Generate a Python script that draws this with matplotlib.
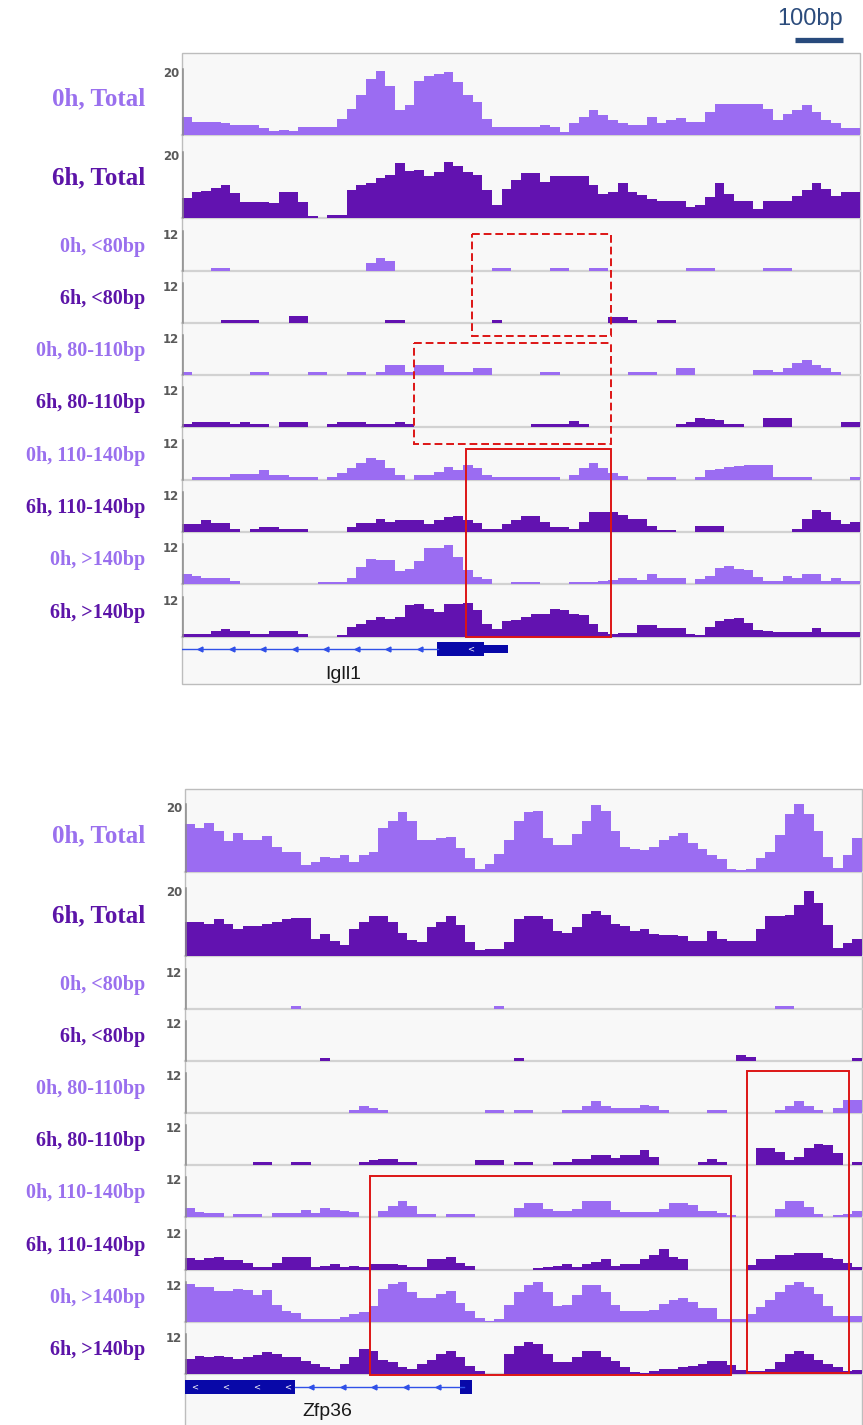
import numpy as np
import matplotlib
matplotlib.use('Agg')
import matplotlib.pyplot as plt
from matplotlib.patches import Rectangle

W, H = 863, 1425
LIGHT = '#9b6cf2'
DARK = '#6212b0'
LABEL_LIGHT = '#9a70ee'
LABEL_DARK = '#5c14a8'
RED = '#dd1515'
GENE = '#0808a8'
GENE_LINE = '#3050e8'

track_names = ['0h, Total', '6h, Total', '0h, <80bp', '6h, <80bp', '0h, 80-110bp',
               '6h, 80-110bp', '0h, 110-140bp', '6h, 110-140bp', '0h, >140bp', '6h, >140bp']
span_bp = 1400
edges = np.arange(71) * 20  # 70 bins of 20 bp

# ---- Igll1 locus: coverage per 20bp bin ----
igll1_0h_total = [5.5, 4, 4, 4, 3.5, 3, 3, 3, 2, 1.2, 1.5, 1.2, 2.5, 2.5, 2.5, 2.5, 5, 8, 12, 17,
                  19.5, 15, 7.5, 9, 16.5, 18, 18.5, 19, 16, 12, 10, 5, 2.5, 2.5, 2.5, 2.5, 2.5, 3, 2.5, 0.8,
                  3.5, 5.5, 7.5, 6, 4.5, 3.5, 3, 3, 5.5, 3.5, 4.5, 5.3, 4, 4, 7, 9.5, 9.5, 9.5, 9.5, 9.5,
                  8, 4.5, 6.5, 7.5, 9, 7, 4.5, 3.5, 2, 2]
igll1_6h_total = [6, 7.9, 8.2, 9, 10, 7.5, 5, 4.7, 4.7, 4.5, 7.9, 7.9, 5, 0.5, 0, 1, 1, 8.5, 10, 10.5,
                  12, 13, 16.8, 14.2, 14.5, 12.6, 14, 17, 15.8, 14, 13, 8.4, 4, 8.9, 11.6, 13.7, 13.7, 11, 12.6, 12.6,
                  12.6, 12.6, 10, 7.4, 8, 10.5, 7.9, 7, 5.8, 5.3, 5.3, 5.3, 3.2, 4, 6.3, 10.5, 7.4, 5.3, 5.3, 2.6,
                  5.3, 5.3, 5.3, 6.8, 8.5, 10.5, 8.9, 6.8, 7.9, 7.9]
igll1_0h_lt80 = [0, 0, 0, 1, 1, 0, 0, 0, 0, 0, 0, 0, 0, 0, 0, 0, 0, 0, 0, 2.5,
                 4, 3, 0, 0, 0, 0, 0, 0, 0, 0, 0, 0, 1, 1, 0, 0, 0, 0, 1, 1,
                 0, 0, 1, 1, 0, 0, 0, 0, 0, 0, 0, 0, 1, 1, 1, 0, 0, 0, 0, 0,
                 1, 1, 1, 0, 0, 0, 0, 0, 0, 0]
igll1_6h_lt80 = [0, 0, 0, 0, 1, 1, 1, 1, 0, 0, 0, 2, 2, 0, 0, 0, 0, 0, 0, 0,
                 0, 1, 1, 0, 0, 0, 0, 0, 0, 0, 0, 0, 1, 0, 0, 0, 0, 0, 0, 0,
                 0, 0, 0, 0, 1.8, 1.8, 1, 0, 0, 1, 1, 0, 0, 0, 0, 0, 0, 0, 0, 0,
                 0, 0, 0, 0, 0, 0, 0, 0, 0, 0]
igll1_0h_80_110 = [1, 0, 0, 0, 0, 0, 0, 1, 1, 0, 0, 0, 0, 1, 1, 0, 0, 1, 1, 0,
                   1, 3, 3, 1, 3, 3, 3, 1, 1, 1, 2, 2, 0, 0, 0, 0, 0, 1, 1, 0,
                   0, 0, 0, 0, 0, 0, 1, 1, 1, 0, 0, 2, 2, 0, 0, 0, 0, 0, 0, 1.5,
                   1.5, 1, 2, 3.5, 4.5, 3, 2, 1, 0, 0]
igll1_6h_80_110 = [1, 1.5, 1.5, 1.5, 1.5, 1, 1.5, 1, 1, 0, 1.5, 1.5, 1.5, 0, 0, 1, 1.5, 1.5, 1.5, 1,
                   1, 1, 1.5, 1, 0, 0, 0, 0, 0, 0, 0, 0, 0, 0, 0, 0, 1, 1, 1, 1,
                   1.7, 1, 0, 0, 0, 0, 0, 0, 0, 0, 0, 1, 1.5, 2.8, 2.5, 2, 1, 1, 0, 0,
                   2.8, 2.8, 2.8, 0, 0, 0, 0, 0, 1.5, 1.5]
igll1_0h_110_140 = [0, 1, 1, 1, 1, 1.8, 1.8, 1.8, 3, 1.5, 1.5, 1, 1, 1, 0, 1, 2, 3.5, 5, 6.5,
                    6, 3.5, 1.5, 0, 1.5, 1.5, 2.5, 4, 3, 4.5, 3.5, 1.5, 1, 1, 1, 1, 1, 1, 1, 0,
                    1.5, 3.5, 5, 3.5, 2, 1.3, 0, 0, 1, 1, 1, 0, 0, 1, 3, 3.3, 3.8, 4.2, 4.6, 4.6,
                    4.6, 1, 1, 1, 1, 0, 0, 0, 0, 1]
igll1_6h_110_140 = [2.5, 2.5, 3.5, 2.7, 2.7, 1, 0, 0.8, 1.5, 1.5, 1, 0.8, 0.8, 0, 0, 0, 0, 1.5, 2.7, 2.7,
                    4, 3, 3.7, 3.7, 3.7, 2.5, 3.5, 4.5, 4.7, 3.5, 2.7, 1, 0.8, 2.5, 3.5, 4.7, 4.7, 3, 1.5, 1.5,
                    1, 3, 6, 6, 6, 5, 4, 3.8, 1.7, 0.5, 0.5, 0, 0, 1.7, 1.7, 1.7, 0, 0, 0, 0,
                    0, 0, 0, 1, 4, 6.7, 6, 3.5, 2.5, 3]
igll1_0h_gt140 = [3, 2.5, 1.7, 1.7, 1.7, 1, 0, 0, 0, 0, 0, 0, 0, 0, 0.7, 0.7, 0.7, 1.7, 5, 7.5,
                  7.2, 7.2, 4, 4.5, 7, 10.7, 10.7, 11.7, 8, 4.2, 2.2, 1.5, 0, 0, 0.7, 0.7, 0.7, 0, 0, 0,
                  0.7, 0.7, 0.7, 0.8, 1.2, 1.8, 1.8, 1.2, 3.1, 1.8, 1.8, 1.8, 0, 1.5, 2.5, 4.8, 5.3, 4.5, 4.3, 2,
                  0.8, 0.8, 2.5, 1.8, 3.1, 3.1, 1, 1.8, 0.8, 0.8]
igll1_6h_gt140 = [0.8, 0.8, 0.8, 1.7, 2.5, 1.7, 1.7, 1, 1, 1.7, 1.7, 1.7, 1, 0, 0, 0, 0.5, 3, 4, 5,
                  6, 5.5, 6, 9.5, 9.8, 8.5, 7.5, 10, 10, 10.2, 8, 4, 2.5, 4.8, 5.2, 6, 7, 7, 8.5, 8,
                  7, 6.5, 4, 1.5, 1, 1.3, 1.3, 3.6, 3.6, 2.8, 2.8, 2.8, 0.8, 0.5, 3, 4.8, 5.5, 5.8, 4.3, 2,
                  1.8, 1.6, 1.6, 1.6, 1.6, 2.6, 1.6, 1.6, 1.6, 1.6]

# ---- Zfp36 locus ----
zfp36_0h_total = [14, 13, 14.5, 12, 9, 11.5, 9.3, 9.3, 10.5, 7.5, 6, 5.9, 2.2, 3, 4.4, 4, 4.9, 2.9, 4.9, 6,
                  13, 15, 17.6, 15, 9.3, 9.3, 10, 10.4, 7, 4, 0.8, 2.4, 5.4, 9.3, 15, 17.6, 18, 10, 8, 8,
                  11.2, 15, 19.8, 18, 12.2, 7.3, 6.8, 6.5, 7.5, 9.3, 10.5, 11.4, 8.5, 6.8, 5, 3.9, 1, 0.7, 1, 4,
                  6, 11, 17, 20.5, 17, 12.2, 4.4, 1.3, 5, 10]
zfp36_6h_total = [9.9, 9.9, 9.5, 10.9, 9.5, 7.9, 8.9, 8.9, 9.5, 9.9, 10.9, 11.1, 11.1, 5, 6.6, 4.5, 3.3, 8, 10, 11.9,
                  11.9, 10, 6.8, 4.8, 4, 8.5, 10, 11.9, 9, 4, 1.7, 2.2, 2.2, 4, 10.9, 11.9, 11.9, 11, 7.3, 6.8,
                  8.5, 12.5, 13.2, 12, 9.5, 8.9, 7.5, 8, 6.5, 6.3, 6.3, 5.8, 4.3, 4.3, 7.3, 5, 4.3, 4.3, 4.3, 8,
                  11.9, 11.9, 12, 15, 19, 15.5, 9, 2.5, 3.8, 5]
zfp36_0h_lt80 = [0, 0, 0, 0, 0, 0, 0, 0, 0, 0, 0, 1, 0, 0, 0, 0, 0, 0, 0, 0,
                 0, 0, 0, 0, 0, 0, 0, 0, 0, 0, 0, 0, 1, 0, 0, 0, 0, 0, 0, 0,
                 0, 0, 0, 0, 0, 0, 0, 0, 0, 0, 0, 0, 0, 0, 0, 0, 0, 0, 0, 0,
                 0, 1, 1, 0, 0, 0, 0, 0, 0, 0]
zfp36_6h_lt80 = [0, 0, 0, 0, 0, 0, 0, 0, 0, 0, 0, 0, 0, 0, 1, 0, 0, 0, 0, 0,
                 0, 0, 0, 0, 0, 0, 0, 0, 0, 0, 0, 0, 0, 0, 1, 0, 0, 0, 0, 0,
                 0, 0, 0, 0, 0, 0, 0, 0, 0, 0, 0, 0, 0, 0, 0, 0, 0, 1.7, 1.2, 0,
                 0, 0, 0, 0, 0, 0, 0, 0, 0, 1]
zfp36_0h_80_110 = [0, 0, 0, 0, 0, 0, 0, 0, 0, 0, 0, 0, 0, 0, 0, 0, 0, 1, 2, 1.5,
                   1, 0, 0, 0, 0, 0, 0, 0, 0, 0, 0, 1, 1, 0, 1, 1, 0, 0, 0, 0.8,
                   0.8, 2, 3.5, 2, 1.5, 1.5, 1.5, 2.5, 2, 1, 0, 0, 0, 0, 1, 1, 0, 0, 0, 0,
                   0, 1, 2.2, 3.5, 2.2, 1, 0, 1.5, 4, 4]
zfp36_6h_80_110 = [0, 0, 0, 0, 0, 0, 0, 1, 1, 0, 0, 1, 1, 0, 0, 0, 0, 0, 1, 1.5,
                   1.7, 1.7, 1, 0.8, 0, 0, 0, 0, 0, 0, 1.5, 1.5, 1.5, 0, 1, 1, 0, 0, 0.8, 1,
                   1.7, 1.7, 3, 3, 2, 3, 3, 4.5, 2.5, 0, 0, 0, 0, 1, 1.7, 1, 0, 0, 0, 5,
                   5, 4, 1.5, 2.3, 5, 6.3, 6, 3.5, 0, 1]
zfp36_0h_110_140 = [2.7, 1.5, 1.2, 1.2, 0, 0.8, 0.8, 0.8, 0, 1.2, 1.2, 1.2, 2, 1.2, 2.7, 2.2, 1.7, 1.5, 0, 0,
                    1.7, 3.4, 4.7, 3.2, 1, 0.9, 0, 0.8, 0.8, 0.8, 0, 0, 0, 0, 2.7, 4.2, 4.2, 2.5, 1.7, 1.7,
                    2.5, 4.9, 4.9, 4.9, 2, 1.4, 1.4, 1.4, 1.4, 2.5, 4.2, 4.2, 3.5, 1.7, 1.7, 1.2, 0.5, 0, 0, 0,
                    0, 2.5, 4.7, 4.7, 3, 1, 0, 0.7, 1, 1.7]
zfp36_6h_110_140 = [3.5, 3, 3.5, 4, 3, 3, 2, 0.8, 0.8, 2, 4, 4, 4, 1, 1.2, 1.7, 1, 1.2, 1, 1.7,
                    1.7, 1.7, 1.5, 0.8, 1, 3.2, 3.2, 4, 2, 1.2, 0, 0, 0, 0, 0, 0, 0.5, 0.8, 1.2, 1.8,
                    1, 1.8, 2.5, 3.2, 1.2, 1.8, 1.8, 3.2, 4.5, 6.2, 4, 3.2, 0, 0, 0, 0, 0, 0, 1.5, 3.2,
                    3.2, 4.5, 4.5, 5, 5, 5, 3.5, 3.2, 2, 0.8]
zfp36_0h_gt140 = [11.5, 10.5, 10.5, 9.2, 9.2, 10, 9.5, 8.2, 9.5, 5, 3.2, 2.7, 1, 0.9, 0.9, 0.9, 1.5, 2.5, 3, 4.7,
                  10, 11.5, 12, 9, 7.2, 7.2, 8.5, 9.2, 5.7, 3.2, 1.2, 0.3, 0.9, 5, 9, 11.2, 12, 9, 4.8, 5,
                  8, 11.2, 11.2, 9, 5, 3.2, 3.2, 3.2, 3.5, 5.5, 6.7, 7.2, 6, 4.2, 4.2, 0.9, 0.9, 0.9, 2.5, 4.5,
                  6.5, 9, 11, 12, 10.5, 8.5, 4.7, 1.7, 1.7, 1.7]
zfp36_6h_gt140 = [4.5, 5.5, 5, 5.5, 5, 4.5, 5.2, 5.7, 6.5, 6, 5, 5, 4, 3, 2, 1.5, 3, 5, 7.5, 7,
                  4.2, 3.5, 2, 1.5, 3, 4.2, 6, 6.8, 5, 2.5, 1, 0, 0, 6, 8.5, 9.5, 9, 6, 3.5, 3.5,
                  5, 6.8, 6.8, 5, 4, 2, 0.5, 0.3, 0.8, 1.5, 1.5, 2, 2.5, 3, 4, 4, 2.8, 1.2, 0.8, 0.8,
                  1.5, 3.5, 6, 7, 6, 4.2, 3, 2, 1, 1.2]

igll1_tracks = [igll1_0h_total, igll1_6h_total, igll1_0h_lt80, igll1_6h_lt80, igll1_0h_80_110,
                igll1_6h_80_110, igll1_0h_110_140, igll1_6h_110_140, igll1_0h_gt140, igll1_6h_gt140]
zfp36_tracks = [zfp36_0h_total, zfp36_6h_total, zfp36_0h_lt80, zfp36_6h_lt80, zfp36_0h_80_110,
                zfp36_6h_80_110, zfp36_0h_110_140, zfp36_6h_110_140, zfp36_0h_gt140, zfp36_6h_gt140]

# gene models (bp within the window)
igll1_model = dict(name='Igll1', intron=(0, 528), thick=[(527, 624)], thin=[(624, 674)],
                   line_arrows=[37, 103, 167, 233, 297, 361, 425, 491], box_arrows=[595], label_bp=332)
zfp36_model = dict(name='Zfp36', intron=(227, 576), thick=[(0, 227), (568, 594)], thin=[],
                   line_arrows=[261, 327, 391, 457, 523], box_arrows=[19, 83, 149, 213], label_bp=294)

# highlight boxes: (bp start, bp end, top px, bottom px, dashed)
igll1_boxes = [(599, 886, 234, 336, True), (479, 886, 343, 444, True), (586, 886, 449, 637, False)]
zfp36_boxes = [(1162, 1373, 1071, 1373, False), (383, 1129, 1176, 1375, False)]

panels = [
    dict(x0=182, x1=860, top=53, bottom=684, total_h=66,
         baselines=[135, 218, 271, 323, 375, 427, 480, 532, 584, 637],
         tracks=igll1_tracks, gene=igll1_model, gene_y=649, label_y=674, boxes=igll1_boxes),
    dict(x0=185, x1=862, top=789, bottom=1440, total_h=68,
         baselines=[872, 956, 1009, 1061, 1113, 1165, 1217, 1270, 1322, 1374],
         tracks=zfp36_tracks, gene=zfp36_model, gene_y=1387, label_y=1411, boxes=zfp36_boxes),
]

fig = plt.figure(figsize=(W / 100, H / 100), dpi=100)


def add_px_axes(x0, y0, x1, y1):
    return fig.add_axes([x0 / W, 1 - y1 / H, (x1 - x0) / W, (y1 - y0) / H])


bg = add_px_axes(0, 0, W, H)
bg.set_xlim(0, W)
bg.set_ylim(H, 0)
bg.axis('off')
bg.set_zorder(0)

ov = add_px_axes(0, 0, W, H)
ov.set_xlim(0, W)
ov.set_ylim(H, 0)
ov.axis('off')
ov.set_zorder(5)

for p in panels:
    x0, x1 = p['x0'], p['x1']
    bp2px = lambda bp, x0=x0, x1=x1: x0 + bp / span_bp * (x1 - x0)
    bg.add_patch(Rectangle((x0, p['top']), x1 - x0, p['bottom'] - p['top'],
                           facecolor='#f8f8f8', edgecolor='#bdbdbd', lw=1, zorder=0))
    for i, (name, vals, base) in enumerate(zip(track_names, p['tracks'], p['baselines'])):
        ymax = 20 if i < 2 else 12
        h = p['total_h'] if i < 2 else 40
        color = LIGHT if i % 2 == 0 else DARK
        bg.plot([x0, x1], [base, base], color='#d2d2d2', lw=1.6, zorder=1)
        ax = add_px_axes(x0, base - h, x1, base)
        ax.set_zorder(2)
        ax.set_xlim(0, span_bp)
        ax.set_ylim(0, ymax)
        ax.axis('off')
        ax.stairs(vals, edges, fill=True, color=color, lw=0)
        ax.plot([3, 3], [0, ymax], color='#8c8c8c', lw=1.1, clip_on=False)
        bg.text(x0 - 3, base - h + 4, str(ymax), ha='right', va='center', fontsize=8.5,
                fontweight='bold', color='#5a5a5a')
        label_off = (36 if i == 0 else 40) if i < 2 else 24
        bg.text(145, base - label_off, name, ha='right', va='center',
                fontsize=18 if i < 2 else 14.5, fontweight='bold', family='Liberation Serif',
                color=LABEL_LIGHT if i % 2 == 0 else LABEL_DARK)

    # gene model
    g = p['gene']
    gy = p['gene_y']
    gax = add_px_axes(x0, gy - 12, x1, gy + 12)
    gax.set_zorder(3)
    gax.set_xlim(0, span_bp)
    gax.set_ylim(12, -12)
    gax.axis('off')
    gax.plot(g['intron'], [0, 0], color=GENE_LINE, lw=1)
    gax.plot(g['line_arrows'], [0] * len(g['line_arrows']), ls='none', marker='<',
             ms=3.5, color=GENE_LINE)
    for s, e in g['thick']:
        gax.add_patch(Rectangle((s, -7), e - s, 14, facecolor=GENE, edgecolor='none'))
    for s, e in g['thin']:
        gax.add_patch(Rectangle((s, -4), e - s, 8, facecolor=GENE, edgecolor='none'))
    for b in g['box_arrows']:
        gax.text(b, 0, '<', color='white', fontsize=6, ha='center', va='center')
    bg.text(bp2px(g['label_bp']), p['label_y'], g['name'], ha='center', va='center',
            fontsize=14, color='#1a1a1a', family='Liberation Sans')

    # highlight boxes
    for s, e, t, b, dashed in p['boxes']:
        ov.add_patch(Rectangle((bp2px(s), t), bp2px(e) - bp2px(s), b - t, fill=False,
                               edgecolor=RED, lw=1.4, ls=(0, (4, 2)) if dashed else '-'))

# scale bar (100 bp, panel 1 scale)
p1 = panels[0]
bar_right = 843
bar_left = bar_right - 100 / span_bp * (p1['x1'] - p1['x0'])
ov.plot([bar_left, bar_right], [39.5, 39.5], color='#284a7c', lw=3.8, solid_capstyle='butt')
ov.text((bar_left + bar_right) / 2 - 9, 19, '100bp', ha='center', va='center', fontsize=17,
        color='#2c4c7c', family='Liberation Sans')

fig.savefig('out.png', dpi=100)
